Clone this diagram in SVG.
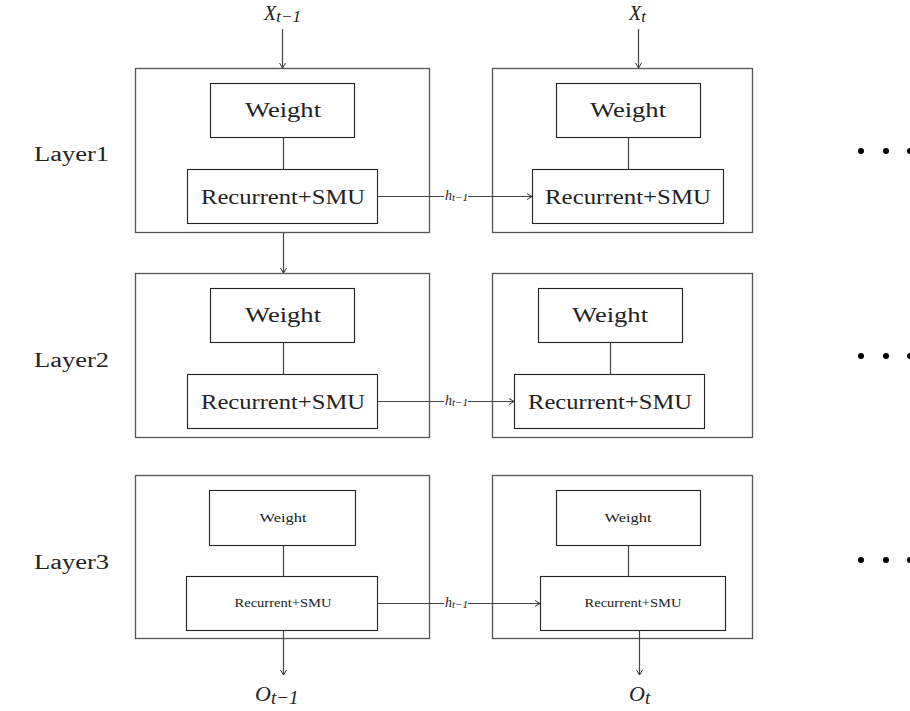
<svg xmlns="http://www.w3.org/2000/svg" width="910" height="711" viewBox="0 0 910 711">
<defs>
<marker id="arr" markerWidth="8" markerHeight="8" refX="6" refY="4" orient="auto" markerUnits="userSpaceOnUse">
<path d="M1,1 L6,4 L1,7" fill="none" stroke="#333" stroke-width="1"/>
</marker>
<style>
.outer{fill:#fff;stroke:#555;stroke-width:1.3}
.inner{fill:#fff;stroke:#222;stroke-width:1.1}
.ln{stroke:#444;stroke-width:1.2;fill:none}
.ar{stroke:#444;stroke-width:1.2;fill:none;marker-end:url(#arr)}
.ser{font-family:"Liberation Serif","DejaVu Serif",serif;fill:#222}
.it{font-family:"Liberation Serif","DejaVu Serif",serif;font-style:italic;fill:#222}
.big{font-size:20px}
.small{font-size:13px}
.dot{fill:#000}
</style>
</defs>
<rect width="910" height="711" fill="#fff"/>

<g id="labels">
<text class="ser big" x="34" y="161" textLength="75" lengthAdjust="spacingAndGlyphs">Layer1</text>
<text class="ser big" x="34" y="367" textLength="75" lengthAdjust="spacingAndGlyphs">Layer2</text>
<text class="ser big" x="34" y="569" textLength="75" lengthAdjust="spacingAndGlyphs">Layer3</text>
</g>

<g id="row1-left">
<rect class="outer" x="135.5" y="68.5" width="294" height="164"/>
<rect id="w1l" class="inner" x="210.5" y="83.5" width="144" height="54"/>
<text class="ser big" x="283" y="117" text-anchor="middle" textLength="76" lengthAdjust="spacingAndGlyphs">Weight</text>
<rect id="r1l" class="inner" x="187.5" y="169.5" width="190" height="54"/>
<text class="ser big" x="283" y="204" text-anchor="middle" textLength="164" lengthAdjust="spacingAndGlyphs">Recurrent+SMU</text>
</g>
<g id="row1-right">
<rect class="outer" x="492.5" y="68.5" width="260" height="164"/>
<rect class="inner" x="556.5" y="83.5" width="144" height="54"/>
<text class="ser big" x="628" y="117" text-anchor="middle" textLength="76" lengthAdjust="spacingAndGlyphs">Weight</text>
<rect class="inner" x="532.5" y="169.5" width="191" height="54"/>
<text class="ser big" x="628" y="204" text-anchor="middle" textLength="166" lengthAdjust="spacingAndGlyphs">Recurrent+SMU</text>
</g>

<g id="row2-left">
<rect class="outer" x="135.5" y="273.5" width="294" height="164"/>
<rect class="inner" x="210.5" y="288.5" width="144" height="54"/>
<text class="ser big" x="283" y="322" text-anchor="middle" textLength="76" lengthAdjust="spacingAndGlyphs">Weight</text>
<rect class="inner" x="187.5" y="374.5" width="190" height="54"/>
<text class="ser big" x="283" y="409" text-anchor="middle" textLength="164" lengthAdjust="spacingAndGlyphs">Recurrent+SMU</text>
</g>
<g id="row2-right">
<rect class="outer" x="492.5" y="273.5" width="260" height="164"/>
<rect class="inner" x="538.5" y="288.5" width="144" height="54"/>
<text class="ser big" x="610" y="322" text-anchor="middle" textLength="76" lengthAdjust="spacingAndGlyphs">Weight</text>
<rect class="inner" x="514.5" y="374.5" width="190" height="54"/>
<text class="ser big" x="610" y="409" text-anchor="middle" textLength="164" lengthAdjust="spacingAndGlyphs">Recurrent+SMU</text>
</g>

<g id="row3-left">
<rect class="outer" x="135.5" y="475.5" width="294" height="163"/>
<rect class="inner" x="209.5" y="490.5" width="146" height="55"/>
<text class="ser small" x="283" y="522" text-anchor="middle" textLength="47" lengthAdjust="spacingAndGlyphs">Weight</text>
<rect class="inner" x="186.5" y="576.5" width="191" height="54"/>
<text class="ser small" x="283" y="607" text-anchor="middle" textLength="97" lengthAdjust="spacingAndGlyphs">Recurrent+SMU</text>
</g>
<g id="row3-right">
<rect class="outer" x="492.5" y="475.5" width="260" height="163"/>
<rect class="inner" x="556.5" y="490.5" width="144" height="55"/>
<text class="ser small" x="628" y="522" text-anchor="middle" textLength="47" lengthAdjust="spacingAndGlyphs">Weight</text>
<rect class="inner" x="540.5" y="576.5" width="185" height="54"/>
<text class="ser small" x="633" y="607" text-anchor="middle" textLength="97" lengthAdjust="spacingAndGlyphs">Recurrent+SMU</text>
</g>

<g id="dots">
<circle class="dot" cx="861" cy="151" r="3"/><circle class="dot" cx="886" cy="151" r="3"/><circle class="dot" cx="910" cy="151" r="3"/>
<circle class="dot" cx="861" cy="356" r="3"/><circle class="dot" cx="886" cy="356" r="3"/><circle class="dot" cx="910" cy="356" r="3"/>
<circle class="dot" cx="861" cy="560" r="3"/><circle class="dot" cx="886" cy="560" r="3"/><circle class="dot" cx="910" cy="560" r="3"/>
</g>

<g id="io-labels">
<text class="it" x="264" y="20" font-size="20">X<tspan font-size="17" dy="2">t−1</tspan></text>
<text class="it" x="629" y="20" font-size="20">X<tspan font-size="17" dy="2">t</tspan></text>
<text class="it" x="255" y="701" font-size="22">O<tspan font-size="19" dy="3">t−1</tspan></text>
<text class="it" x="629" y="701" font-size="22">O<tspan font-size="19" dy="3">t</tspan></text>
</g>

<g id="connectors">
<line class="ar" x1="282.5" y1="29" x2="282.5" y2="68"/>
<line class="ar" x1="638.5" y1="29" x2="638.5" y2="68"/>
<line class="ar" x1="283.5" y1="233" x2="283.5" y2="273"/>
<line class="ln" x1="283.5" y1="137.5" x2="283.5" y2="169.5"/>
<line class="ln" x1="628.5" y1="137.5" x2="628.5" y2="169.5"/>
<line class="ln" x1="283.5" y1="342.5" x2="283.5" y2="374.5"/>
<line class="ln" x1="610.5" y1="342.5" x2="610.5" y2="374.5"/>
<line class="ln" x1="283.5" y1="545.5" x2="283.5" y2="576.5"/>
<line class="ln" x1="628.5" y1="545.5" x2="628.5" y2="576.5"/>
<line class="ar" x1="283.5" y1="631" x2="283.5" y2="675"/>
<line class="ar" x1="639.5" y1="631" x2="639.5" y2="675"/>

<line class="ln" x1="378" y1="196.5" x2="444" y2="196.5"/>
<line class="ar" x1="468" y1="196.5" x2="532" y2="196.5"/>
<text class="it" x="445" y="200" font-size="14">h<tspan font-size="11" dy="1">t−1</tspan></text>

<line class="ln" x1="378" y1="401.5" x2="444" y2="401.5"/>
<line class="ar" x1="468" y1="401.5" x2="514" y2="401.5"/>
<text class="it" x="445" y="405" font-size="14">h<tspan font-size="11" dy="1">t−1</tspan></text>

<line class="ln" x1="378" y1="603.5" x2="444" y2="603.5"/>
<line class="ar" x1="468" y1="603.5" x2="540" y2="603.5"/>
<text class="it" x="445" y="607" font-size="14">h<tspan font-size="11" dy="1">t−1</tspan></text>
</g>
</svg>
